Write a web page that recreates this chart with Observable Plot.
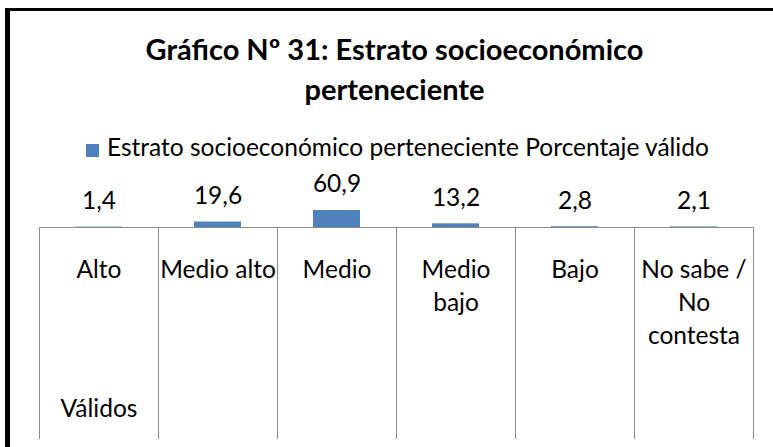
<!DOCTYPE html>
<html><head><meta charset="utf-8">
<script src="https://cdn.jsdelivr.net/npm/d3@7"></script>
<script src="https://cdn.jsdelivr.net/npm/@observablehq/plot@0.6"></script>
<style>
html,body{margin:0;padding:0;background:#fff;overflow:hidden}
#wrap{position:relative;width:773px;height:447px;font-family:Lato,sans-serif;color:#000;overflow:hidden}
#frame{position:absolute;left:5px;top:8px;width:820px;height:480px;border-left:5px solid #000;border-top:3px solid #000;box-sizing:border-box}
#chart{position:absolute;left:0;top:0}
#title{position:absolute;left:8px;width:773px;top:29px;text-align:center;font-weight:bold;font-size:29px;line-height:40px}
#legsq{position:absolute;left:86px;top:144px;width:13px;height:13px;background:#4F81BD}
#legtx{position:absolute;left:107px;top:135px;font-size:24.5px;line-height:24px;white-space:nowrap}
</style></head>
<body><div id="wrap"><div id="frame"></div><div id="chart"></div>
<div id="title">Gráfico Nº 31: Estrato socioeconómico<br>perteneciente</div>
<div id="legsq"></div><div id="legtx">Estrato socioeconómico perteneciente Porcentaje válido</div>
</div>
<script>
const categories = ["Alto", "Medio alto", "Medio", "Medio bajo", "Bajo", "No sabe / No contesta"];
const tickLabels = ["Alto", "Medio alto", "Medio", "Medio\nbajo", "Bajo", "No sabe /\nNo\ncontesta"];
const values = [1.4, 19.6, 60.9, 13.2, 2.8, 2.1];
const valueLabels = ["1,4", "19,6", "60,9", "13,2", "2,8", "2,1"];
const rowLabel = ["Válidos"];

const data = categories.map((c, i) => ({cat: c, value: values[i], label: valueLabels[i], tick: tickLabels[i]}));
const grid = "#8c8c8c";
const fs = 24.5;

const chart = Plot.plot({
  width: 773, height: 447,
  marginLeft: 37, marginRight: 18, marginTop: 227, marginBottom: 9,
  fx: {domain: categories, padding: 0, axis: null},
  y: {domain: [0, 70], range: [227, 207.5], axis: null},
  style: {fontFamily: "Lato, sans-serif", fontSize: fs + "px", color: "#000", background: "transparent", overflow: "visible"},
  marks: [
    Plot.frame({anchor: "left", stroke: grid, strokeOpacity: 1}),
    Plot.frame({anchor: "right", stroke: grid, strokeOpacity: 1}),
    Plot.ruleY([0], {stroke: grid}),
    Plot.barY(data, {fx: "cat", y: "value", fill: "#4F81BD", insetLeft: 36, insetRight: 36}),
    Plot.text(data, {fx: "cat", y: "value", text: "label", dy: -26, lineAnchor: "middle", fontSize: fs, fill: "#000"}),
    Plot.text(data, {fx: "cat", text: "tick", frameAnchor: "top", lineAnchor: "top", dy: 27.5, lineHeight: 1.347, fontSize: fs, fill: "#000"}),
    Plot.text(rowLabel, {fx: () => categories[0], text: d => d, frameAnchor: "bottom", lineAnchor: "middle", dy: -29, fontSize: fs, fill: "#000"})
  ]
});
document.getElementById("chart").appendChild(chart);
</script>
</body></html>
